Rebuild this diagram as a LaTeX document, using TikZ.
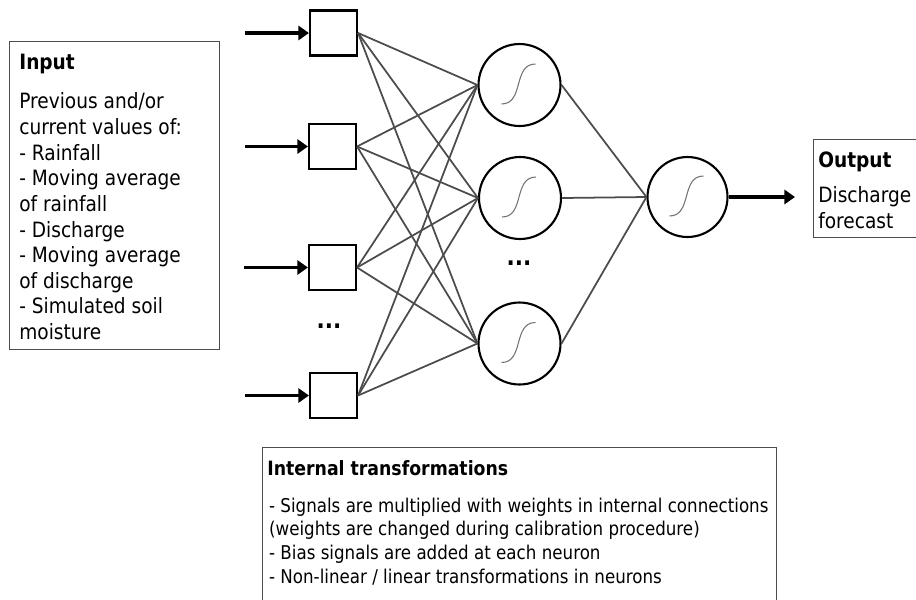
\documentclass[tikz,border=0pt]{standalone}
\usepackage{fontspec}
\setmainfont{DejaVu Sans}[FakeStretch=0.88]
\usetikzlibrary{positioning,arrows.meta}

\tikzset{
  inbox/.style={draw,line width=1.2pt,minimum width=0.94cm,minimum height=0.9cm,inner sep=0pt},
  neuron/.style={draw,circle,line width=1.2pt,minimum size=1.64cm,inner sep=0pt},
  weight/.style={draw=black!70,line width=1pt},
  feed/.style={line width=1.9pt,-{Triangle[length=6pt,width=8pt]}},
  sigm/.style={draw=black!55,line width=0.6pt},
  frame/.style={draw=black!70,line width=0.7pt,inner sep=0pt,anchor=north west},
  head/.style={font=\fontsize{12}{14.6}\selectfont\bfseries,inner sep=0pt,anchor=base west},
  body/.style={align=left,inner sep=0pt,font=\fontsize{12}{14.6}\selectfont},
  dots/.style={font=\fontsize{14}{16}\selectfont\bfseries,inner sep=0pt}
}

\begin{document}
\begin{tikzpicture}[x=0.02cm,y=-0.02cm]
	\clip (0,0) rectangle (916,599);
	% text frames
	\node[frame,minimum width=4.2cm,minimum height=6.16cm] (inframe) at (9,41) {};
	\node[frame,minimum width=2.4cm,minimum height=1.96cm] (outframe) at (813,139) {};
	\node[frame,minimum width=10.28cm,minimum height=4cm] (intframe) at (262,447) {};
	\node[head] (intitle) at (19,69) {Input};
	\node[body,below right=13.3pt and 0pt of intitle.base west] (intext) {Previous and/or\\current values of:\\- Rainfall\\- Moving average\\of rainfall\\- Discharge\\- Moving average\\of discharge\\- Simulated soil\\moisture};
	\node[head] (outtitle) at (818,167) {Output};
	\node[body,below right=11.1pt and 0pt of outtitle.base west] (outtext) {Discharge\\forecast};
	\node[head,font=\fontsize{11.2}{14}\selectfont\bfseries] (inttitle) at (267,475) {Internal transformations};
	\node[body,font=\fontsize{10.8}{13.6}\selectfont,below right=12.7pt and 1pt of inttitle.base west] (inttext) {- Signals are multiplied with weights in internal connections\\(weights are changed during calibration procedure)\\- Bias signals are added at each neuron\\- Non-linear / linear transformations in neurons};
	% network
	\node[inbox] (in1) at (333.5,33) {};
	\node[inbox] (in2) at (332.5,146.5) {};
	\node[inbox] (in3) at (332.5,267.5) {};
	\node[inbox] (in4) at (333.5,395.5) {};
	\coordinate (s1) at (245,33);
	\coordinate (s2) at (245,146.5);
	\coordinate (s3) at (244,267.5);
	\coordinate (s4) at (245,395.5);
	\node[dots] (idots) at (329,326) {...};
	\node[neuron] (h1) at (519.5,85) {};
	\node[neuron] (h2) at (520,198) {};
	\node[neuron] (h3) at (519.5,343.5) {};
	\node[dots] (hdots) at (519,263) {...};
	\node[neuron,minimum size=1.6cm] (out) at (687.5,197) {};
	\coordinate (res) at (795,197);
	\foreach \i in {1,...,4} {
		\draw[feed] (s\i) -- (in\i.west);
		\foreach \j in {1,2,3}
			\draw[weight] (in\i.east) -- (h\j.west);
	}
	\foreach \j in {1,2,3}
		\draw[weight] (h\j.east) -- (out.west);
	\draw[feed] (out.east) -- (res);
	% sigmoid curves
	\foreach \n in {h1,h2,h3,out}
		\draw[sigm,shift={(\n.center)}] (-18,19) .. controls (5,19) and (-7,-21) .. (16,-21);
\end{tikzpicture}
\end{document}
